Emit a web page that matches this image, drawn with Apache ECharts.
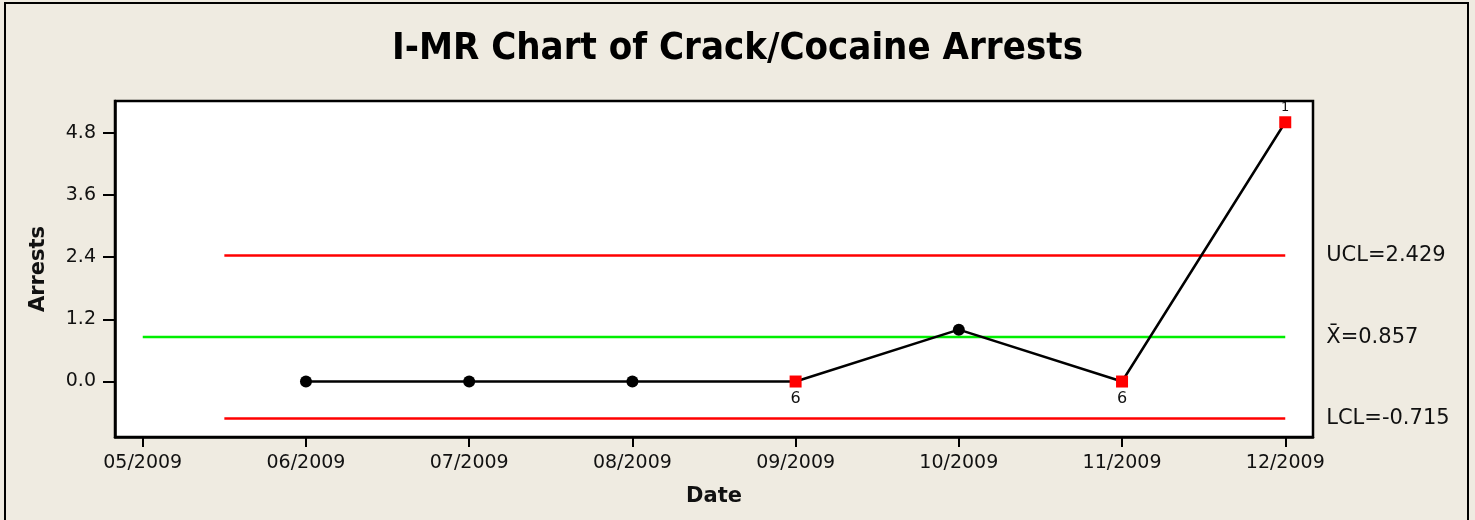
<!DOCTYPE html>
<html>
<head>
<meta charset="utf-8">
<script src="https://cdn.jsdelivr.net/npm/echarts@6/dist/echarts.min.js"></script>
<style>
  html, body { margin: 0; padding: 0; background: #EFEBE1; }
  #chart { width: 1475px; height: 520px; }
</style>
</head>
<body>
<div id="chart"></div>
<script>
// months on the x axis, one observation per month (05/2009 has none)
var months = ["05/2009", "06/2009", "07/2009", "08/2009", "09/2009", "10/2009", "11/2009", "12/2009"];
var arrests = [null, 0, 0, 0, 0, 1, 0, 5];
// minitab test failures written next to the point ("" = none)
var testFlags = ["", "", "", "", "6", "", "6", "1"];
var yTicks = [0, 1.2, 2.4, 3.6, 4.8];

var centerValue = 0.857;
var uclValue = 2.429;
var lclValue = -0.715;

var tickFont = "DejaVu Sans";

var pointData = [];
for (var i = 0; i < months.length; i++) {
    if (arrests[i] === null) continue;
    var flag = testFlags[i];
    var item = { value: [i, arrests[i]] };
    if (flag) {
        item.symbol = "rect";
        item.symbolSize = 12;
        item.itemStyle = { color: "#FF0000" };
        item.label = {
            show: true,
            formatter: flag,
            position: flag == "1" ? "top" : "bottom",
            distance: flag == "1" ? 2 : 3,
            fontSize: flag == "1" ? 13 : 16,
            color: "#111",
            fontFamily: tickFont
        };
    }
    pointData.push(item);
}

function limitLine(name, value, start, color, text) {
    return {
        name: name,
        type: "line",
        data: [[start, value], [months.length - 1, value]],
        symbol: "none",
        silent: true,
        lineStyle: { color: color, width: 2.5 },
        z: 1,
        endLabel: {
            show: true,
            distance: 41,
            formatter: text,
            color: "#111",
            fontSize: 21,
            fontFamily: tickFont
        }
    };
}

var myChart = echarts.init(document.getElementById("chart"));
var option = {
    backgroundColor: "#EFEBE1",
    animation: false,
    title: {
        text: "I-MR Chart of Crack/Cocaine Arrests",
        left: "center",
        top: 25,
        textStyle: {
            fontFamily: "DejaVu Sans Condensed, DejaVu Sans, sans-serif",
            fontWeight: "bold",
            fontSize: 38,
            color: "#000"
        }
    },
    graphic: [{
        type: "rect",
        shape: { x: 5, y: 3, width: 1463, height: 530 },
        style: { fill: null, stroke: "#000", lineWidth: 2 },
        silent: true
    }],
    grid: {
        left: 115,
        top: 101,
        right: 162,
        bottom: 83,
        show: true,
        backgroundColor: "#fff",
        borderColor: "#000",
        borderWidth: 2.5
    },
    xAxis: {
        type: "value",
        min: -0.17,
        max: 7.17,
        name: "Date",
        nameLocation: "middle",
        nameGap: 49,
        nameTextStyle: { fontFamily: tickFont, fontWeight: "bold", fontSize: 21, color: "#111" },
        splitLine: { show: false },
        axisLine: { onZero: false, lineStyle: { color: "#000", width: 2.5 } },
        axisTick: {
            customValues: months.map(function (m, i) { return i; }),
            length: 10,
            lineStyle: { color: "#000", width: 2 }
        },
        axisLabel: {
            customValues: months.map(function (m, i) { return i; }),
            formatter: function (v) { return months[Math.round(v)]; },
            margin: 17,
            fontFamily: tickFont,
            fontSize: 19,
            color: "#111"
        }
    },
    yAxis: {
        type: "value",
        min: -1.07,
        max: 5.41,
        name: "Arrests",
        nameLocation: "middle",
        nameGap: 66,
        nameTextStyle: { fontFamily: tickFont, fontWeight: "bold", fontSize: 21, color: "#111" },
        splitLine: { show: false },
        axisLine: { show: true, onZero: false, lineStyle: { color: "#000", width: 2.5 } },
        axisTick: {
            customValues: yTicks,
            length: 12,
            lineStyle: { color: "#000", width: 2 }
        },
        axisLabel: {
            customValues: yTicks,
            formatter: function (v) { return v.toFixed(1); },
            margin: 19,
            fontFamily: tickFont,
            fontSize: 19,
            color: "#111"
        }
    },
    series: [
        limitLine("UCL", uclValue, 0.5, "#FF0000", "UCL=" + uclValue.toFixed(3)),
        limitLine("Center", centerValue, 0, "#00EE00", "X\u0304=" + centerValue.toFixed(3)),
        limitLine("LCL", lclValue, 0.5, "#FF0000", "LCL=" + lclValue.toFixed(3)),
        {
            name: "Arrests",
            type: "line",
            data: pointData,
            symbol: "circle",
            symbolSize: 12,
            clip: false,
            z: 5,
            lineStyle: { color: "#000", width: 2.5 },
            itemStyle: { color: "#000" }
        }
    ]
};
myChart.setOption(option);
</script>
</body>
</html>
